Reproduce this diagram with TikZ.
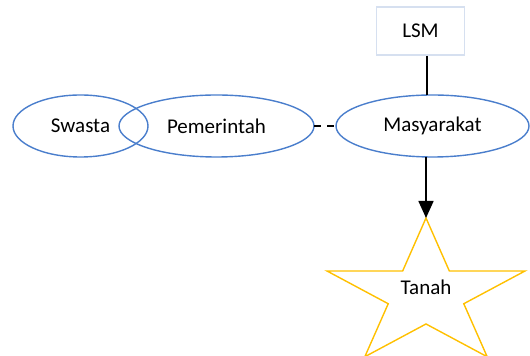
\documentclass[tikz,border=0pt]{standalone}
\usepackage{fontspec}
\setmainfont{Carlito}
\usepackage{tikz}
\usetikzlibrary{positioning, arrows.meta, shapes.geometric}
\definecolor{aktorblue}{RGB}{74, 126, 204}
\definecolor{lsmgrey}{RGB}{214, 224, 240}
\definecolor{tanahgold}{RGB}{255, 192, 0}
\tikzset{
  aktor/.style={
    ellipse,
    draw=aktorblue,
    line width=0.7pt,
    minimum height=31pt,
    inner sep=0pt,
    outer sep=0pt
  },
  lembaga/.style={
    rectangle,
    draw=lsmgrey,
    line width=0.8pt,
    minimum width=44pt,
    minimum height=24pt
  },
  tanahstar/.style={
    star,
    star points=5,
    star point ratio=2.62,
    draw=tanahgold,
    line width=0.7pt,
    minimum size=76.7pt,
    inner sep=0pt,
    outer sep=0pt
  },
  link/.style={
    line width=0.8pt,
    draw=black
  },
  every node/.style={font=\fontsize{10.5}{12.6}\selectfont}
}
\begin{document}
\begin{tikzpicture}[x=0.5pt, y=-0.5pt]
          \useasboundingbox (0, 0) rectangle (530, 356);
          \node[lembaga] (lsm) at (420.5, 31) {LSM};
          \node[aktor, minimum width=67.5pt] (swasta) at (80.5, 126) {Swasta};
          \node[aktor, minimum width=97.5pt] (pemerintah) at (216.5, 126) {Pemerintah};
          \node[aktor, minimum width=96.5pt] (masyarakat) at (432.5, 126) {Masyarakat};
          \node[tanahstar, xscale=1.357] (tanah) at (426, 294.7) {};
          \node (tanahteks) at (426, 287) {Tanah};
          \coordinate (jalur) at (427, 0);

          \draw[link] (lsm.south -| jalur) -- (masyarakat.north -| jalur);
          \draw[link, dash pattern=on 3.5pt off 3pt] (pemerintah.east) -- (masyarakat.west);
          \draw[link, -{Triangle[length=8.5pt, width=7.5pt]}] (masyarakat.south -| tanah.north) -- (tanah.north);
        \end{tikzpicture}
\end{document}
